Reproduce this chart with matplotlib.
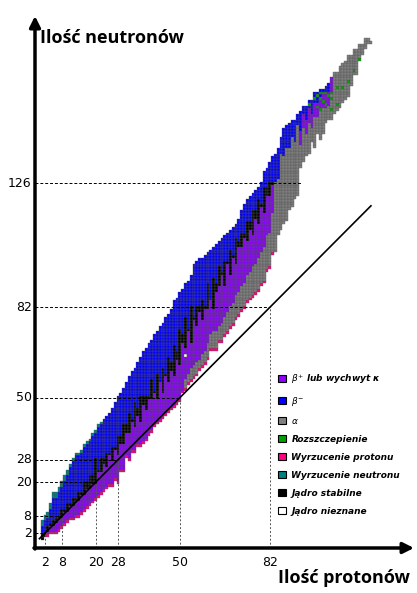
import numpy as np
import matplotlib
matplotlib.use("Agg")
import matplotlib.pyplot as plt
from matplotlib.patches import Patch, Rectangle
from matplotlib.collections import PatchCollection

# ---- data (per proton number Z = 1..118) ----
n_min = [0,1,1,2,2,2,3,4,5,6,7,7,8,8,9,10,11,12,13,14,15,16,17,18,19,19,21,20,24,24,
         29,28,31,31,33,33,34,35,37,38,40,41,42,43,44,45,46,47,48,49,52,53,55,56,57,58,60,61,62,64,
         67,67,67,70,70,72,73,75,76,78,79,81,82,84,85,86,87,88,90,91,95,96,101,102,108,110,112,113,117,118,
         121,122,132,134,136,137,141,139,144,142,144,148,149,149,151,152,153,155,156,157,161,165,165,170,172,174,176,176]
n_max = [6,8,9,12,16,16,18,20,22,24,26,28,30,30,31,33,34,35,37,38,40,41,42,43,44,46,48,50,51,53,
         55,57,59,60,62,64,66,67,69,70,72,73,75,76,78,79,81,84,85,87,88,90,91,93,97,98,99,99,100,101,
         102,103,104,105,106,107,108,109,110,111,113,116,118,120,121,122,123,124,126,130,131,133,135,136,138,142,145,146,147,148,
         148,150,151,153,153,155,155,158,158,159,159,160,161,163,165,165,167,168,169,171,171,173,173,175,175,177,177,176]
# stable isotopes: lowest / highest stable N for Z = 1..83 (-1 = none)
stab_lo = [0,1,3,5,5,6,7,8,10,10,12,12,14,14,16,16,18,18,20,20,24,24,27,26,30,28,32,30,34,34,
           38,38,42,40,44,42,48,46,50,50,52,50,-1,52,58,56,60,58,64,62,70,68,74,70,78,76,81,78,82,82,
           -1,82,88,90,94,90,98,94,100,98,104,104,107,106,110,108,114,112,118,116,122,122,126]
stab_hi = [1,2,4,5,6,7,8,10,10,12,12,14,14,16,16,20,20,22,22,28,24,28,28,30,30,32,32,36,36,40,
           40,44,42,48,46,50,50,50,50,56,52,58,-1,60,58,64,62,68,66,74,72,78,74,82,78,82,82,84,82,90,
           -1,92,90,96,94,98,98,102,100,106,105,108,108,112,112,116,116,120,118,124,124,126,126]
pivot_nostable = {43: 55, 61: 84}
# last non beta-minus N for Z = 84..118
pivot_heavy = [126,127,136,135,138,138,142,140,146,144,150,148,152,150,154,154,156,157,157,
               158,163,165,165,167,168,169,171,171,173,173,175,175,177,177,176]
# beta+ window width just below pivot for Z = 84..118
purple_heavy = [0]*9 + [5]*12 + [0]*14
# neutron-deficient alpha emitters count for Z = 52..83
alpha_cnt = [3,3,4,4,4,3,4,4,5,5,6,6,5,6,6,7,7,7,8,8,8,8,9,9,10,10,11,11,12,12,12,14]
proton_em = [0,0] + [1]*81 + [0]*35
neutron_em = [2]*10 + [1]*12 + [0]*96
fission = [(96,154),(98,156),(99,157),(100,152),(100,156),(100,158),(101,158),(102,154),
           (102,158),(103,157),(104,152),(104,156),(104,158),(106,154),(106,160),(108,160),
           (110,162),(112,166),(114,170),(101,155),(99,153)]
unknown = [(52,65)]

magic = [2, 8, 20, 28, 50, 82, 126]
magic_z_end = [2, 8, 20, 28, 50, 82, 93]
x_ticks = [2, 8, 20, 28, 50, 82]

colors = ['#8B00FF', '#0000FF', '#808080', '#00A000', '#FF0080', '#008080', '#000000', '#FFFFFF']
labels = [r'$\beta^{+}$ lub wychwyt κ', r'$\beta^{-}$', r'$\alpha$', 'Rozszczepienie',
          'Wyrzucenie protonu', 'Wyrzucenie neutronu', 'Jądro stabilne', 'Jądro nieznane']

# ---- classify cells ----
cells = {}
for i in range(118):
    Z = i + 1
    lo_n, hi_n = n_min[i], n_max[i]
    for N in range(lo_n, hi_n + 1):
        if Z <= 83:
            if stab_lo[i] >= 0:
                slo, shi = stab_lo[i], stab_hi[i]
                low_edge, has_st = slo, True
            else:
                pv = pivot_nostable[Z]
                slo, shi = pv + 1, pv
                low_edge, has_st = pv + 1, False
            ac = alpha_cnt[Z - 52] if Z >= 52 else 0
            if N < low_edge:
                if N < lo_n + proton_em[i]:
                    c = 4
                elif N < lo_n + proton_em[i] + ac:
                    c = 2
                else:
                    c = 0
            elif has_st and N <= shi:
                c = 6
            else:
                c = 5 if N > hi_n - neutron_em[i] else 1
        else:
            pv = pivot_heavy[Z - 84]
            pw = purple_heavy[Z - 84]
            if N > pv:
                c = 1
            elif N > pv - pw:
                c = 0
            else:
                c = 2
        cells[(Z, N)] = c
for k in fission:
    if k in cells:
        cells[k] = 3
for k in unknown:
    cells[k] = 7

# ---- figure ----
W, H = 417, 593
fig = plt.figure(figsize=(W / 100, H / 100), dpi=100)
ax = fig.add_axes([35 / W, 45 / H, (410 - 35) / W, (548 - 25) / H])
ax.set_xlim(-1.57, 131.9)
ax.set_ylim(-3.3, 182.1)
ax.axis('off')

rects = [Rectangle((Z - 0.5, N - 0.5), 1, 1) for (Z, N) in cells]
fcs = [colors[c] for c in cells.values()]
ax.add_collection(PatchCollection(rects, facecolors=fcs, edgecolors='#555555',
                                  linewidths=0.25, zorder=1))

# N = Z line
ax.plot([0, 118], [0, 118], color='black', lw=1.2, zorder=3)

# guide lines
for m, ze in zip(magic, magic_z_end):
    ax.plot([-1.57, ze], [m, m], color='black', lw=0.7, ls=(0, (3, 2)), zorder=2)
    ax.text(-2.8, m, str(m), ha='right', va='center', fontsize=9)
for m in x_ticks:
    ax.plot([m, m], [-3.3, m], color='#555555', lw=0.7, ls=(0, (2, 2)), zorder=2)
    ax.text(m, -8.5, str(m), ha='center', va='center', fontsize=9)

# axes with arrows
ap = dict(arrowstyle='-|>', lw=2.5, color='black', mutation_scale=16, shrinkA=0, shrinkB=0)
ax.annotate('', xy=(35, H - 16), xytext=(35, 45 - 1), xycoords='figure pixels',
            textcoords='figure pixels', arrowprops=ap, annotation_clip=False)
ax.annotate('', xy=(414, 45), xytext=(34, 45), xycoords='figure pixels',
            textcoords='figure pixels', arrowprops=ap, annotation_clip=False)

fig.text(40 / W, 1 - 38 / H, 'Ilość neutronów', fontsize=13, fontweight='bold',
         ha='left', va='center', family='Open Sans')
fig.text(410 / W, 1 - 578 / H, 'Ilość protonów', fontsize=13, fontweight='bold',
         ha='right', va='center', family='Open Sans')

handles = [Patch(facecolor=c, edgecolor='black', lw=0.8) for c in colors]
fig.legend(handles, labels, loc='upper left', bbox_to_anchor=(276 / W, 1 - 370 / H),
           frameon=False, prop=dict(size=6.5, weight='bold', style='italic'),
           handlelength=0.9, handleheight=0.9, labelspacing=1.0, handletextpad=0.6,
           borderaxespad=0, borderpad=0.2)

fig.savefig('out.png', dpi=100)
